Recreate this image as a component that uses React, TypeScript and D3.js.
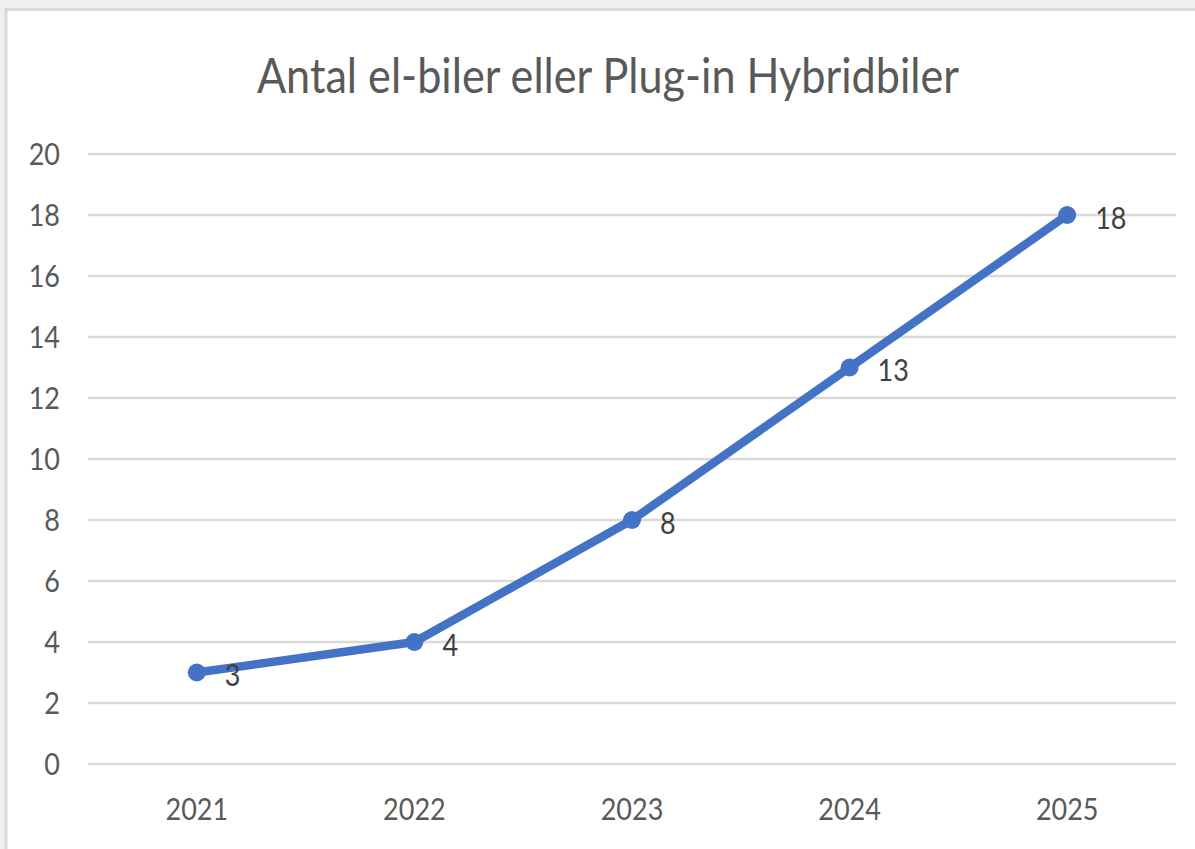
import React from 'react';
import * as d3 from 'd3';

const title = 'Antal el-biler eller Plug-in Hybridbiler';
const years = ['2021', '2022', '2023', '2024', '2025'];
const counts = [3, 4, 8, 13, 18];
const yTicks = [0, 2, 4, 6, 8, 10, 12, 14, 16, 18, 20];

const W = 1195;
const H = 849;
const FONT = 'Lato, "Open Sans", sans-serif';

// text squeezed a little horizontally (the original font is narrower than Lato)
function Label({ x, y, anchor, size, fill, children }: any) {
  return (
    <text
      transform={`translate(${x},${y}) scale(0.9,1)`}
      dy="0.36em"
      textAnchor={anchor}
      fontFamily={FONT}
      fontSize={size}
      fill={fill}
    >
      {children}
    </text>
  );
}

export default function App() {
  // plot area
  const left = 88;
  const right = 1176;
  const top = 154;
  const bottom = 764;

  const x = d3.scalePoint<string>().domain(years).range([left, right]).padding(0.5);
  const y = d3.scaleLinear().domain([0, 20]).range([bottom, top]);

  const data = years.map((yr, i) => ({ yr, v: counts[i] }));
  const line = d3.line<{ yr: string; v: number }>()
    .x((d) => x(d.yr) as number)
    .y((d) => y(d.v));

  return (
    <svg
      width={W}
      height={H}
      style={{ position: 'absolute', left: 0, top: 0, display: 'block' }}
    >
      <rect x={0} y={0} width={W} height={H} fill="#efefef" />
      <rect x={6} y={9.5} width={W + 20} height={H + 20} fill="#fff" stroke="#d9d9d9" strokeWidth={3} />

      <Label x={608} y={76} anchor="middle" size={48} fill="#595959">{title}</Label>

      {/* gridlines and y ticks */}
      {yTicks.map((t) => (
        <g key={t}>
          <line x1={left} x2={right} y1={y(t)} y2={y(t)} stroke="#d9d9d9" strokeWidth={2.5} />
          <Label x={60} y={y(t)} anchor="end" size={30} fill="#595959">{t}</Label>
        </g>
      ))}

      {/* x labels */}
      {years.map((yr) => (
        <Label key={yr} x={x(yr)} y={809} anchor="middle" size={30} fill="#595959">{yr}</Label>
      ))}

      <path d={line(data) || ''} fill="none" stroke="#4472c4" strokeWidth={8.5} strokeLinejoin="round" />
      {data.map((d) => (
        <circle key={d.yr} cx={x(d.yr)} cy={y(d.v)} r={9} fill="#4472c4" />
      ))}

      {/* data labels */}
      {data.map((d) => (
        <Label
          key={`l${d.yr}`}
          x={(x(d.yr) as number) + 28}
          y={y(d.v) + 3}
          anchor="start"
          size={30}
          fill="#404040"
        >
          {d.v}
        </Label>
      ))}
    </svg>
  );
}
